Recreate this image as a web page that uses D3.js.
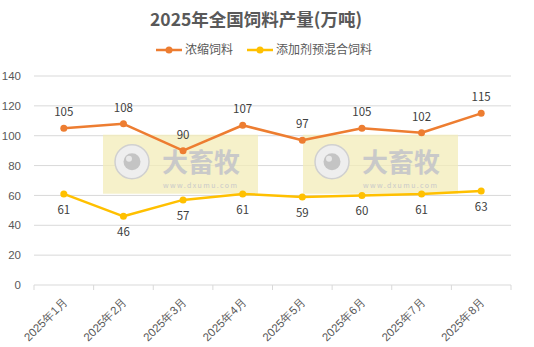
<!DOCTYPE html>
<html>
<head>
<meta charset="utf-8">
<script src="https://cdn.jsdelivr.net/npm/d3@7"></script>
<style>
body{margin:0;background:#fff;}
svg{font-family:"Microsoft YaHei","Noto Sans CJK SC",sans-serif;}
</style>
</head>
<body>
<svg class="chart" width="534" height="347"></svg>
<script>
var months=['2025年1月','2025年2月','2025年3月','2025年4月','2025年5月','2025年6月','2025年7月','2025年8月'];
var concentrate=[105,108,90,107,97,105,102,115];
var premix=[61,46,57,61,59,60,61,63];
var yTicks=[0,20,40,60,80,100,120,140];
var seriesNames=['浓缩饲料','添加剂预混合饲料'];
var seriesColors=['#ED7D31','#FFC000'];

var width=534, height=347;
var margin={top:76,right:23,bottom:62,left:34};

var svg=d3.select('.chart');

var xScale=d3.scaleBand().domain(months).range([margin.left,width-margin.right]);
var yScale=d3.scaleLinear().domain([0,140]).range([height-margin.bottom,margin.top]);

// title
svg.append('text')
  .attr('x',width/2-11).attr('y',26)
  .attr('text-anchor','middle')
  .attr('font-size','17.5px').attr('font-weight','bold')
  .attr('fill','#595959')
  .text('2025年全国饲料产量(万吨)');

// gridlines
svg.append('g').selectAll('line')
  .data(yTicks.slice(1))
  .join('line')
  .attr('x1',margin.left).attr('x2',width-margin.right)
  .attr('y1',d=>yScale(d)).attr('y2',d=>yScale(d))
  .style('stroke','#d9d9d9').style('stroke-width',1);

// watermarks (image stamps in the original)
var wmX=[103,303];
var wm=svg.append('g').selectAll('g')
  .data(wmX)
  .join('g')
  .attr('transform',d=>'translate('+d+','+(yScale(100)-1)+')');
wm.append('rect')
  .attr('width',155).attr('height',59)
  .style('fill','#f3ecb8').style('opacity',0.75);
wm.append('circle').attr('cx',29).attr('cy',27).attr('r',17)
  .style('fill','#eeeeee').style('stroke','#d0d0d0').style('stroke-width',1.5);
wm.append('circle').attr('cx',29).attr('cy',27).attr('r',8.5).style('fill','#c4c4c4');
wm.append('circle').attr('cx',26).attr('cy',24).attr('r',3).style('fill','#e8e8e8');
wm.append('text').attr('x',59).attr('y',37)
  .attr('font-size','26px').attr('font-weight','bold').attr('fill','#c9c9c9')
  .text('大畜牧');
wm.append('text').attr('x',60).attr('y',53)
  .attr('font-size','7px').attr('fill','#c9c9c9').attr('letter-spacing','1.4px')
  .text('www.dxumu.com');

// x axis
var xAxis=d3.axisBottom(xScale).tickSize(5).tickSizeOuter(0);
var xg=svg.append('g')
  .attr('class','x-axis')
  .attr('transform','translate(0,'+yScale(0)+')')
  .call(xAxis);
xg.select('.domain').remove();
xg.append('line').attr('x1',margin.left).attr('x2',width-margin.right)
  .style('stroke','#d9d9d9');
// ticks on band edges
xg.selectAll('.tick line').remove();
xg.selectAll('.edge')
  .data(months.concat(['end']))
  .join('line')
  .attr('x1',(d,i)=>margin.left+i*xScale.bandwidth())
  .attr('x2',(d,i)=>margin.left+i*xScale.bandwidth())
  .attr('y1',0).attr('y2',5)
  .style('stroke','#d9d9d9');
xg.selectAll('.tick text')
  .attr('font-size','11.5px').attr('fill','#595959')
  .attr('text-anchor','end')
  .attr('transform','translate(-4,9) rotate(-45)')
  .attr('dy','0.35em').attr('y',8).attr('x',0);

// y axis
var yAxis=d3.axisLeft(yScale).tickValues(yTicks).tickSize(0).tickPadding(11);
var yg=svg.append('g')
  .attr('class','y-axis')
  .attr('transform','translate('+(margin.left-2)+',0)')
  .call(yAxis);
yg.select('.domain').remove();
yg.selectAll('text').attr('font-size','11.5px').attr('fill','#595959');

// lines
var allSeries=[concentrate,premix];
var line=d3.line()
  .x((d,i)=>xScale(months[i])+xScale.bandwidth()/2)
  .y(d=>yScale(d));

allSeries.forEach(function(s,k){
  svg.append('path')
    .datum(s)
    .attr('d',line)
    .style('fill','none')
    .style('stroke',seriesColors[k])
    .style('stroke-width',2.5)
    .style('stroke-linejoin','round');
  svg.append('g').selectAll('circle')
    .data(s)
    .join('circle')
    .attr('cx',(d,i)=>xScale(months[i])+xScale.bandwidth()/2)
    .attr('cy',d=>yScale(d))
    .attr('r',3.5)
    .style('fill',seriesColors[k]);
  svg.append('g').selectAll('text')
    .data(s)
    .join('text')
    .attr('x',(d,i)=>xScale(months[i])+xScale.bandwidth()/2)
    .attr('y',d=>k==0 ? yScale(d)-12 : yScale(d)+20)
    .attr('text-anchor','middle')
    .attr('font-size','11.5px').attr('fill','#404040')
    .text(d=>d);
});

// legend
var legendX=[156,247];
var legend=svg.append('g').selectAll('g')
  .data(seriesNames)
  .join('g')
  .attr('transform',(d,i)=>'translate('+legendX[i]+',50)');
legend.append('line').attr('x1',0).attr('x2',26)
  .style('stroke',(d,i)=>seriesColors[i]).style('stroke-width',2.5);
legend.append('circle').attr('cx',13).attr('r',3.5)
  .style('fill',(d,i)=>seriesColors[i]);
legend.append('text').attr('x',29).attr('dy','0.35em')
  .attr('font-size','12px').attr('fill','#595959')
  .text(d=>d);
</script>
</body>
</html>
